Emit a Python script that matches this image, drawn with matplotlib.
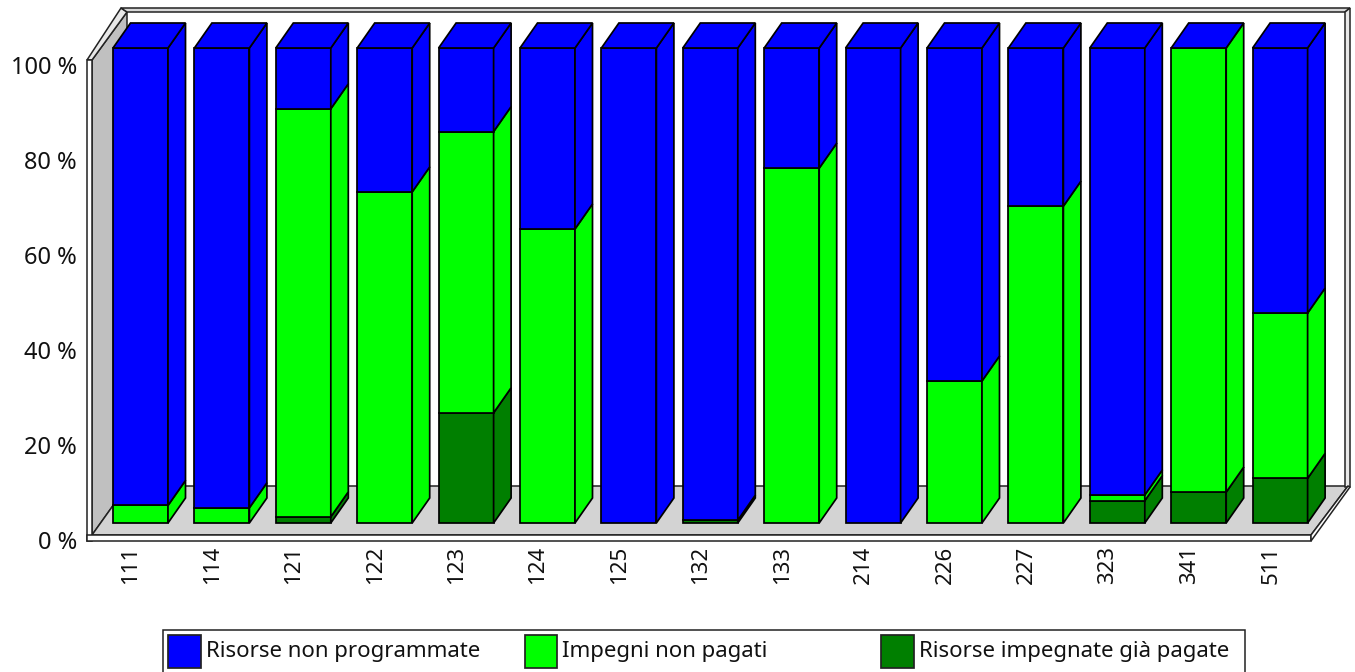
#!/usr/bin/env python3
"""Stacked 100 % bars with the old fake-3D look (front, side and top faces)."""

import matplotlib
matplotlib.use("Agg")
import matplotlib.pyplot as plt
from matplotlib.patches import Polygon
from matplotlib.transforms import Affine2D

W, H = 1355, 672

categories = ["111", "114", "121", "122", "123", "124", "125", "132",
              "133", "214", "226", "227", "323", "341", "511"]
paid = [0, 0, 1.3, 0, 23.2, 0, 0, 0.6, 0, 0, 0, 0, 4.7, 6.5, 9.4]
unpaid = [3.7, 3.2, 85.9, 69.7, 59.2, 61.9, 0, 0, 74.7, 0, 29.9, 66.7, 1.2, 93.5, 34.8]
unplanned = [96.3, 96.8, 12.8, 30.3, 17.6, 38.1, 100, 99.4, 25.3, 100, 70.1, 33.3, 94.1, 0, 55.8]
y_ticks = [0, 20, 40, 60, 80, 100]

series = [
    (paid, "#007F00", "Risorse impegnate già pagate"),
    (unpaid, "#00FF00", "Impegni non pagati"),
    (unplanned, "#0000FF", "Risorse non programmate"),
]

# axes fill the whole figure, data scales chosen so bars land where they should
PX_PER_CAT = 81.4
PX_PER_PCT = 4.75
X0_PX = 140.5
Y0_PX = 523
BAR_W = 55 / PX_PER_CAT
DX = 17.5 / PX_PER_CAT   # depth of the bars
DY = 25 / PX_PER_PCT
LINE = 1.25

plt.rcParams["font.family"] = ["Noto Sans", "DejaVu Sans"]

fig = plt.figure(figsize=(W / 100, H / 100), dpi=100)
ax = fig.add_axes([0, 0, 1, 1])
ax.set_xlim(-X0_PX / PX_PER_CAT, (W - X0_PX) / PX_PER_CAT)
ax.set_ylim((Y0_PX - H) / PX_PER_PCT, Y0_PX / PX_PER_PCT)
ax.axis("off")

# walls, frame and legend are decoration, drawn in plain image pixels
px = Affine2D().scale(1, -1).translate(0, H)


def deco(points, face, zorder=1, lw=1.1):
    ax.add_patch(Polygon(points, closed=True, facecolor=face, edgecolor="#222222",
                         linewidth=lw, transform=px, zorder=zorder, clip_on=False))


deco([(92, 535), (127, 486), (127, 12), (92, 60)], "#C0C0C0")
deco([(92, 535), (127, 486), (1348, 486), (1311, 535)], "#D3D3D3")
deco([(87, 60), (121, 8), (127, 12), (92, 60)], "#E8E8E8", zorder=3)
deco([(121, 8), (1350, 8), (1345, 12), (127, 12)], "#D8D8D8", zorder=3)
deco([(1345, 12), (1350, 8), (1350, 487), (1345, 487)], "#E8E8E8", zorder=3)
deco([(87, 60), (92, 60), (92, 541), (87, 541)], "#FFFFFF", zorder=3)
deco([(87, 535), (1311, 535), (1311, 541), (87, 541)], "#FFFFFF", zorder=3)
deco([(1311, 535), (1348, 486), (1350, 487), (1311, 541)], "#FFFFFF", zorder=3)

for i in range(len(categories)):
    left = i - BAR_W / 2
    right = i + BAR_W / 2
    bottom = 0
    for values, color, _ in series:
        top = bottom + values[i]
        if values[i] > 0:
            ax.add_patch(Polygon([(left, bottom), (right, bottom), (right, top), (left, top)],
                                 facecolor=color, edgecolor="black", linewidth=LINE, zorder=5))
            ax.add_patch(Polygon([(right, bottom), (right + DX, bottom + DY),
                                  (right + DX, top + DY), (right, top)],
                                 facecolor=color, edgecolor="black", linewidth=LINE, zorder=5))
        bottom = top
    # the top face keeps the colour of the last series even when its value is 0
    ax.add_patch(Polygon([(left, bottom), (right, bottom), (right + DX, bottom + DY),
                          (left + DX, bottom + DY)],
                         facecolor=series[-1][1], edgecolor="black", linewidth=LINE, zorder=5))

for i, name in enumerate(categories):
    ax.annotate(name, xy=(i, 0), xytext=(-9.5, -23),
                textcoords="offset pixels", rotation=90, ha="center", va="top",
                fontsize=16, color="#111111", annotation_clip=False)

for tick in y_ticks:
    ax.annotate(f"{tick} %", xy=(0, tick), xytext=(77 - X0_PX, -20),
                textcoords="offset pixels", ha="right", va="center",
                fontsize=17, color="#111111", annotation_clip=False)

# legend columns are evenly spaced in the original, whatever the text width
deco([(163, 630), (1245, 630), (1245, 674), (163, 674)], "#FFFFFF", lw=1.1)
for k, (_, color, name) in enumerate(reversed(series)):
    x = 168 + k * 356.5
    deco([(x, 635), (x + 32.5, 635), (x + 32.5, 667.5), (x, 667.5)], color, zorder=2, lw=LINE)
    ax.text(x + 38, 657, name, transform=px, ha="left", va="baseline",
            fontsize=16, color="#111111")

fig.savefig("out.png", dpi=100)
